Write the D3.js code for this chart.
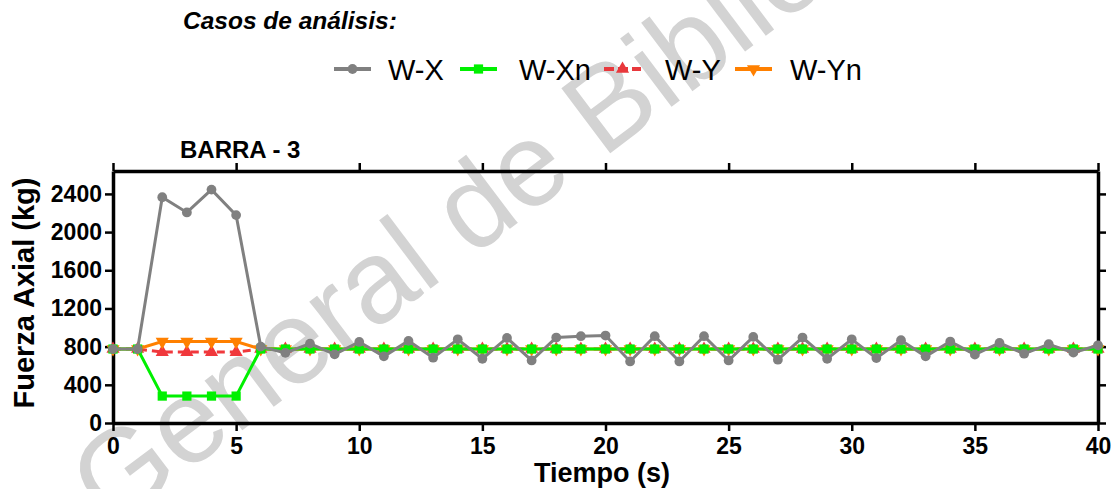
<!DOCTYPE html>
<html>
<head>
<meta charset="utf-8">
<script src="https://cdn.jsdelivr.net/npm/d3@7"></script>
<style>
  body { margin: 0; background: #fff; }
  svg { display: block; font-family: "Liberation Sans", Arial, sans-serif; }
</style>
</head>
<body>
<div id="chart"></div>
<script>
// time steps (s)
var tiempo = d3.range(0, 41);

// series values (kg)
var wX = [775, 775, 2365, 2206, 2445, 2178, 800, 735, 832, 719, 849, 698, 860, 684, 877, 673, 891, 655, 895, 909,
          916, 645, 909, 645, 909, 655, 902, 663, 895, 673, 877, 680, 867, 698, 853, 716, 838, 726, 825, 737, 814];
var wXn = [775, 775, 282, 282, 282, 282].concat(d3.range(6, 41).map(function () { return 775; }));
var wY = [775, 775, 743, 743, 743, 743].concat(d3.range(6, 41).map(function () { return 775; }));
var wYn = [775, 775, 853, 853, 853, 853].concat(d3.range(6, 41).map(function () { return 775; }));

var xTicks = [0, 5, 10, 15, 20, 25, 30, 35, 40];
var yTicks = [0, 400, 800, 1200, 1600, 2000, 2400];

var W = 1119, H = 489;
var margin = { top: 171, right: 21, bottom: 66, left: 113 };
var width = W - margin.left - margin.right,
    height = H - margin.top - margin.bottom;

var svg = d3.select("#chart").append("svg")
    .attr("width", W)
    .attr("height", H);

// watermark
svg.append("text")
    .attr("transform", "translate(110,530) rotate(-37)")
    .attr("font-size", 118)
    .attr("fill", "#d3d3d3")
    .text("General de Bibliotecas");

var g = svg.append("g")
    .attr("transform", "translate(" + margin.left + "," + margin.top + ")");

var x = d3.scaleLinear().domain([0, 40]).range([0, width]);
var y = d3.scaleLinear().domain([0, 2640]).range([height, 0]);

// axes
function styleAxis(sel) {
    sel.attr("font-family", null).attr("font-size", null);
    sel.select(".domain").attr("stroke-width", 3.5).attr("stroke", "#000");
    sel.selectAll(".tick line").attr("stroke-width", 2.5).attr("stroke", "#000");
    sel.selectAll("text").attr("font-size", 23).attr("font-weight", "bold").attr("fill", "#000");
}

g.append("g")
    .attr("transform", "translate(0," + height + ")")
    .call(d3.axisBottom(x).tickValues(xTicks).tickSize(8).tickSizeOuter(0).tickPadding(7))
    .call(styleAxis);

g.append("g")
    .call(d3.axisTop(x).tickValues(xTicks).tickSize(8).tickSizeOuter(0).tickFormat(""))
    .call(styleAxis);

g.append("g")
    .call(d3.axisLeft(y).tickValues(yTicks).tickFormat(d3.format("d")).tickSize(8).tickSizeOuter(0).tickPadding(3))
    .call(styleAxis);

g.append("g")
    .attr("transform", "translate(" + width + ",0)")
    .call(d3.axisRight(y).tickValues(yTicks).tickSize(8).tickSizeOuter(0).tickFormat(""))
    .call(styleAxis);

// axis titles
svg.append("text")
    .attr("x", 602)
    .attr("y", 482)
    .attr("text-anchor", "middle")
    .attr("font-size", 27)
    .attr("font-weight", "bold")
    .text("Tiempo (s)");

svg.append("text")
    .attr("transform", "translate(34,293) rotate(-90)")
    .attr("text-anchor", "middle")
    .attr("font-size", 29)
    .attr("font-weight", "bold")
    .text("Fuerza Axial (kg)");

svg.append("text")
    .attr("x", 180)
    .attr("y", 158)
    .attr("font-size", 24)
    .attr("font-weight", "bold")
    .text("BARRA - 3");

// lines
var line = d3.line()
    .x(function (d, i) { return x(tiempo[i]); })
    .y(function (d) { return y(d); });

var sym = {
    circle: d3.symbol().type(d3.symbolCircle).size(75),
    square: d3.symbol().type(d3.symbolSquare).size(85),
    tri: d3.symbol().type(d3.symbolTriangle).size(75)
};

var series = [
    { name: "W-Y", values: wY, color: "#f0383c", dash: "8,5", marker: "tri", rot: 0 },
    { name: "W-Yn", values: wYn, color: "#ff8000", dash: null, marker: "tri", rot: 180 },
    { name: "W-Xn", values: wXn, color: "#00f000", dash: null, marker: "square", rot: 0 },
    { name: "W-X", values: wX, color: "#808080", dash: null, marker: "circle", rot: 0 }
];

series.forEach(function (s) {
    g.append("path")
        .datum(s.values)
        .attr("fill", "none")
        .attr("stroke", s.color)
        .attr("stroke-width", 3)
        .attr("stroke-dasharray", s.dash)
        .attr("d", line);
    g.selectAll(null)
        .data(s.values)
        .enter().append("path")
        .attr("d", sym[s.marker])
        .attr("fill", s.color)
        .attr("transform", function (d, i) {
            return "translate(" + x(tiempo[i]) + "," + y(d) + ") rotate(" + s.rot + ")";
        });
});

// legend
svg.append("text")
    .attr("x", 183)
    .attr("y", 29)
    .attr("font-size", 24.5)
    .attr("font-weight", "bold")
    .attr("font-style", "italic")
    .text("Casos de análisis:");

var legendItems = [
    { name: "W-X", color: "#808080", x0: 334, tx: 388, marker: "circle", rot: 0, dash: null },
    { name: "W-Xn", color: "#00f000", x0: 460, tx: 519, marker: "square", rot: 0, dash: null },
    { name: "W-Y", color: "#e8383c", x0: 604, tx: 665, marker: "tri", rot: 0, dash: "10,4" },
    { name: "W-Yn", color: "#ff8000", x0: 735, tx: 790, marker: "tri", rot: 180, dash: null }
];

var leg = svg.append("g").attr("transform", "translate(0,69)");
legendItems.forEach(function (d) {
    leg.append("line")
        .attr("x1", d.x0).attr("x2", d.x0 + 37)
        .attr("stroke", d.color)
        .attr("stroke-width", 4)
        .attr("stroke-dasharray", d.dash);
    leg.append("path")
        .attr("d", sym[d.marker])
        .attr("fill", d.color)
        .attr("transform", "translate(" + (d.x0 + 18.5) + ",0) rotate(" + d.rot + ")");
    leg.append("text")
        .attr("x", d.tx)
        .attr("y", 10.5)
        .attr("font-size", 29)
        .text(d.name);
});
</script>
</body>
</html>
